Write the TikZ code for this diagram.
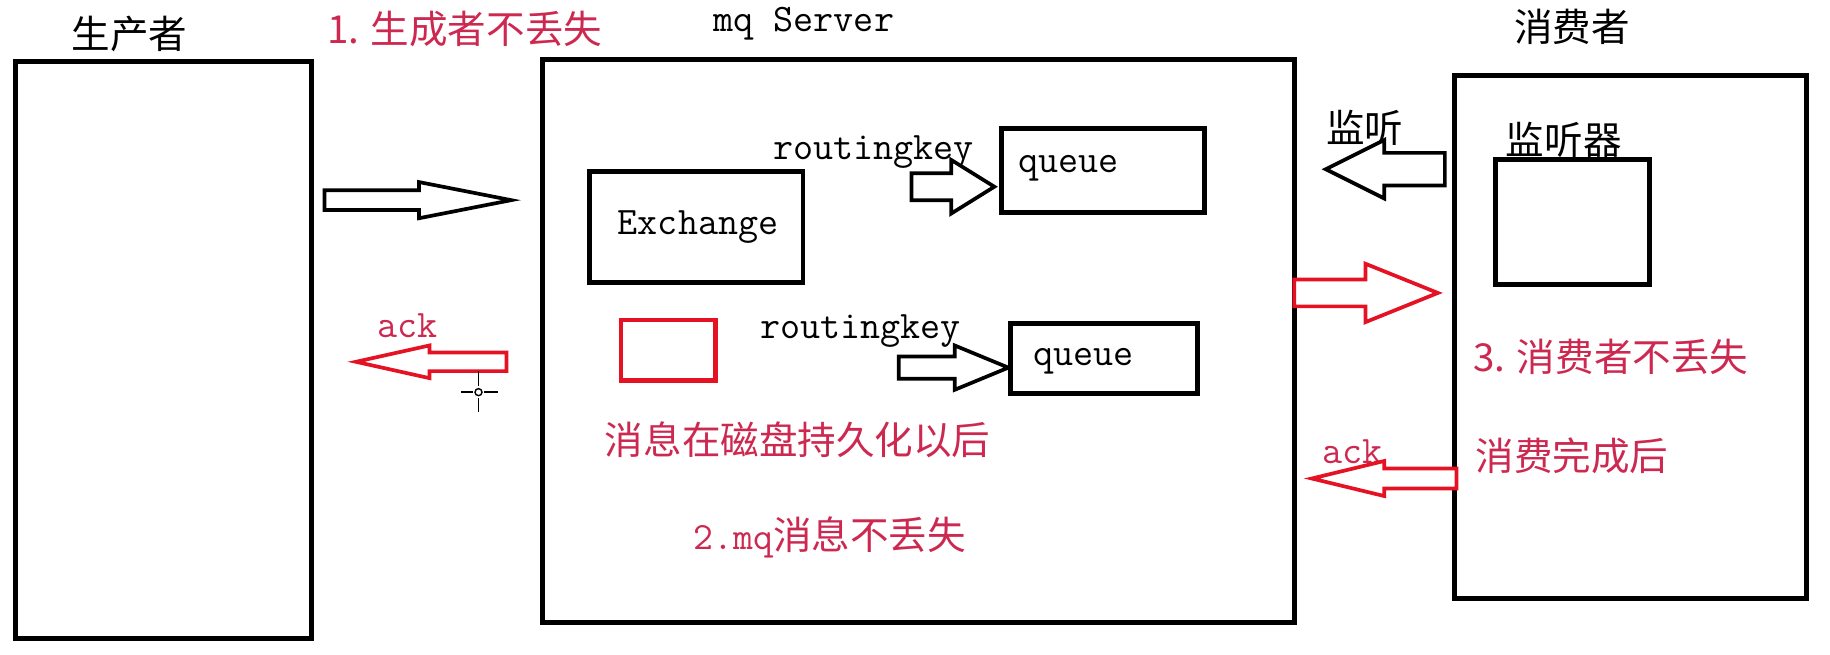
\documentclass[tikz,border=0pt]{standalone}
\usepackage{fontspec}
\setmainfont{Noto Sans CJK SC}
\definecolor{redtxt}{RGB}{205,40,80}
\definecolor{redln}{RGB}{228,18,35}
\newcommand{\rectnode}[6]{\node[#6, inner sep=0pt, minimum width={(#4-#2)*0.02cm}, minimum height={(#5-#3)*0.02cm}] (#1) at ({(#2+#4)/2},{(#3+#5)/2}) {};}
% style, tail x, head base x, tip x, y, shaft half, head half
\newcommand{\blockarrow}[7]{\draw[#1] (#2,{#5-#6}) -- (#3,{#5-#6}) -- (#3,{#5-#7}) -- (#4,#5) -- (#3,{#5+#7}) -- (#3,{#5+#6}) -- (#2,{#5+#6}) -- cycle;}
\begin{document}
\begin{tikzpicture}[x=0.02cm, y=-0.02cm,
  box/.style={draw=black, line width=2.4pt},
  redbox/.style={draw=redln, line width=2.2pt},
  barrow/.style={draw=black, line width=1.8pt, line join=miter, fill=white},
  rarrow/.style={draw=redln, line width=1.8pt, line join=miter, fill=white},
  cjk/.style={font=\fontsize{18.8}{22}\selectfont, inner sep=0pt, anchor=base west},
  mono/.style={font=\fontsize{19}{22}\selectfont\ttfamily, inner sep=0pt, anchor=base west},
  redt/.style={text=redtxt}]
\useasboundingbox[fill=white] (0,0) rectangle (1568,561);

% main boxes
\rectnode{producer}{13}{53}{267}{547}{box}
\rectnode{server}{465}{51}{1109}{533}{box}
\rectnode{consumer}{1246}{65}{1548}{513}{box}
\rectnode{listener}{1281}{137}{1413}{244}{box}
\rectnode{exchange}{505}{147}{688}{242}{box}
\rectnode{queueA}{858}{110}{1032}{182}{box}
\rectnode{queueB}{866}{277}{1026}{337}{box}
\rectnode{disk}{532}{274}{613}{326}{redbox}

% titles
\node[cjk] (tprod) at (61,41.5) {生产者};
\node[cjk, redt] (t1) at (280,37) {1. 生成者不丢失};
\node[mono] (tsrv) at (611,27) {mq Server};
\node[cjk] (tcons) at (1297,35.5) {消费者};

% inside server
\node[mono] (rk1) at (662,137) {routingkey};
\node[mono] (q1) at (872,148) {queue};
\node[mono] (ex) at (529,201) {Exchange};
\node[mono] (rk2) at (651,290) {routingkey};
\node[mono] (q2) at (885,313) {queue};
\node[cjk, redt] (persist) at (518,389) {消息在磁盘持久化以后};
\node[cjk, redt] (t2) at (594,471) {{\ttfamily 2.mq}消息不丢失};

% consumer side
\node[cjk] (listen) at (1136,122) {监听};
\node[cjk] (tlist) at (1290,132) {监听器};
\node[cjk, redt] (t3) at (1262,318) {3. 消费者不丢失};
\node[cjk, redt] (done) at (1264,403) {消费完成后};

% acks
\node[mono, redt] (ack1) at (323,289) {ack};
\node[mono, redt] (ack2) at (1133,397) {ack};

% block arrows
\blockarrow{barrow}{278}{359}{438}{171.5}{8.5}{15.5}
\blockarrow{barrow}{781}{815}{852}{160}{11.5}{23}
\blockarrow{barrow}{770}{818}{864}{315}{9.5}{19}
\blockarrow{barrow}{1238}{1186}{1136}{145}{14}{25}
\blockarrow{rarrow}{1109}{1170}{1232}{251}{11.5}{25}
\blockarrow{rarrow}{434}{368}{305}{310}{8}{14}
\blockarrow{rarrow}{1248}{1186}{1124}{410}{8.5}{15}

% cursor crosshair
\coordinate (cur) at (410,336);
\draw[line width=0.7pt] (cur) circle (3);
\draw[line width=0.7pt] (410,318) -- (410,331) (410,341) -- (410,353)
  (395,336) -- (405,336) (415,336) -- (427,336);
\end{tikzpicture}
\end{document}
